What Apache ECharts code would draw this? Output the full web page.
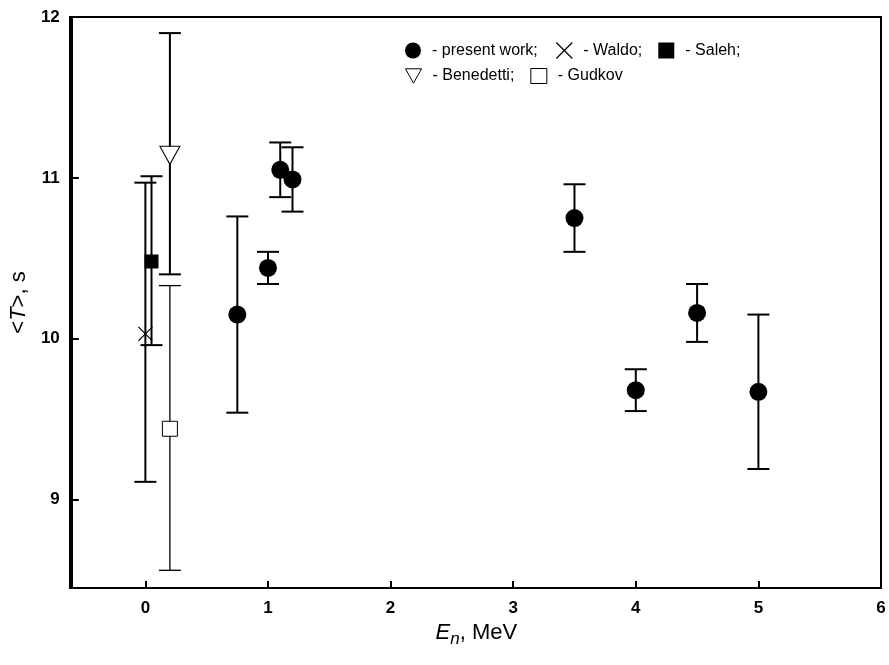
<!DOCTYPE html>
<html>
<head>
<meta charset="UTF-8">
<script src="https://cdn.jsdelivr.net/npm/echarts@6/dist/echarts.min.js"></script>
<style>body{margin:0;background:#fff}#main{width:889px;height:665px}</style>
</head>
<body>
<div id="main"></div>
<script>
// [E, T, low, high]
var present = [[0.75,10.15,9.54,10.76],[1.0,10.44,10.34,10.54],[1.1,11.05,10.88,11.22],[1.2,10.99,10.79,11.19],
               [3.5,10.75,10.54,10.96],[4.0,9.68,9.55,9.81],[4.5,10.16,9.98,10.34],[5.0,9.67,9.19,10.15]];
var waldo = [[0.0,10.03,9.11,10.97]];
var saleh = [[0.05,10.48,9.96,11.01]];
var benedetti = [[0.2,11.14,10.40,11.90]];
var gudkov = [[0.2,9.44,8.56,10.33]];
var xTicks = [0, 1, 2, 3, 4, 5, 6];
var yTicks = [9, 10, 11, 12];

var FONT = 'Liberation Sans';
var crossPath = 'path://M0,0L10,10M10,0L0,10';
var triPath = 'path://M0,0L10,0L5,9Z';
var hollow = {color: '#fff', borderColor: '#000', borderWidth: 1, opacity: 1};

function errBars(name, data, w) {
    return {
        name: name + 'err', type: 'custom', z: 1,
        data: data.map(function (d) { return [d[0], d[2], d[3]]; }),
        renderItem: function (params, api) {
            var lo = api.coord([api.value(0), api.value(1)]);
            var hi = api.coord([api.value(0), api.value(2)]);
            var c = 11;
            var s = {stroke: '#000', lineWidth: w};
            return {type: 'group', children: [
                {type: 'line', shape: {x1: lo[0], y1: lo[1], x2: hi[0], y2: hi[1]}, style: s},
                {type: 'line', shape: {x1: lo[0] - c, y1: lo[1], x2: lo[0] + c, y2: lo[1]}, style: s},
                {type: 'line', shape: {x1: hi[0] - c, y1: hi[1], x2: hi[0] + c, y2: hi[1]}, style: s}
            ]};
        }
    };
}
function pts(name, data, symbol, size, st) {
    return {
        name: name, type: 'scatter', z: 3, symbol: symbol, symbolSize: size,
        data: data.map(function (d) { return [d[0], d[1]]; }),
        itemStyle: st
    };
}

var chart = echarts.init(document.getElementById('main'));
var legendText = {fontFamily: FONT, fontSize: 16, color: '#000', padding: [0, 0, 0, 6]};
chart.setOption({
    animation: false,
    grid: {left: 70, right: 8, top: 17, bottom: 77},
    legend: [{
        top: 35, left: 400, itemGap: 16, itemWidth: 16, itemHeight: 16, textStyle: legendText,
        data: [{name: '- present work;', icon: 'circle'},
               {name: '- Waldo;', icon: crossPath, itemStyle: {color: 'none', borderColor: '#000', borderWidth: 1.2}},
               {name: '- Saleh;', icon: 'rect'}]
    }, {
        top: 63, left: 400, itemGap: 16, itemWidth: 16, itemHeight: 15, textStyle: legendText,
        data: [{name: '- Benedetti;', icon: triPath, itemStyle: hollow},
               {name: '- Gudkov', icon: 'rect', itemStyle: hollow}]
    }],
    xAxis: {
        type: 'value', min: -0.6, max: 6,
        name: '{i|E}{s|n}, MeV', nameLocation: 'middle', nameGap: 27,
        nameTextStyle: {fontFamily: FONT, fontSize: 22, color: '#000',
            rich: {i: {fontStyle: 'italic', fontSize: 22, fontFamily: FONT},
                   s: {fontStyle: 'italic', fontSize: 17, fontFamily: FONT, verticalAlign: 'bottom', padding: [12, 0, 0, 0]}}},
        axisLine: {onZero: false, lineStyle: {color: '#000', width: 2}},
        axisTick: {inside: true, length: 7, lineStyle: {width: 2}, customValues: xTicks},
        axisLabel: {fontFamily: FONT, fontSize: 17, fontWeight: 'bold', color: '#000', margin: 12, customValues: xTicks},
        splitLine: {show: false}
    },
    yAxis: {
        type: 'value', min: 8.45, max: 12,
        name: '<{i|T}>, s', nameLocation: 'middle', nameGap: 34,
        nameTextStyle: {fontFamily: FONT, fontSize: 22, color: '#000',
            rich: {i: {fontStyle: 'italic', fontSize: 22, fontFamily: FONT}}},
        axisLine: {onZero: false, lineStyle: {color: '#000', width: 2}},
        axisTick: {inside: true, length: 7, lineStyle: {width: 2}, customValues: yTicks},
        axisLabel: {fontFamily: FONT, fontSize: 17, fontWeight: 'bold', color: '#000', margin: 12, customValues: yTicks},
        splitLine: {show: false}
    },
    graphic: [{type: 'rect', shape: {x: 70, y: 17, width: 811, height: 571}, style: {fill: 'none', stroke: '#000', lineWidth: 2}, silent: true}],
    series: [
        errBars('- present work;', present, 2),
        errBars('- Waldo;', waldo, 2),
        errBars('- Saleh;', saleh, 2),
        errBars('- Benedetti;', benedetti, 2),
        errBars('- Gudkov', gudkov, 1.3),
        pts('- present work;', present, 'circle', 18, {color: '#000', opacity: 1}),
        pts('- Waldo;', waldo, crossPath, 14, {color: 'none', borderColor: '#000', borderWidth: 1.2, opacity: 1}),
        pts('- Saleh;', saleh, 'rect', 14, {color: '#000', opacity: 1}),
        pts('- Benedetti;', benedetti, triPath, [20, 18], hollow),
        pts('- Gudkov', gudkov, 'rect', 15, hollow)
    ]
});
</script>
</body>
</html>
